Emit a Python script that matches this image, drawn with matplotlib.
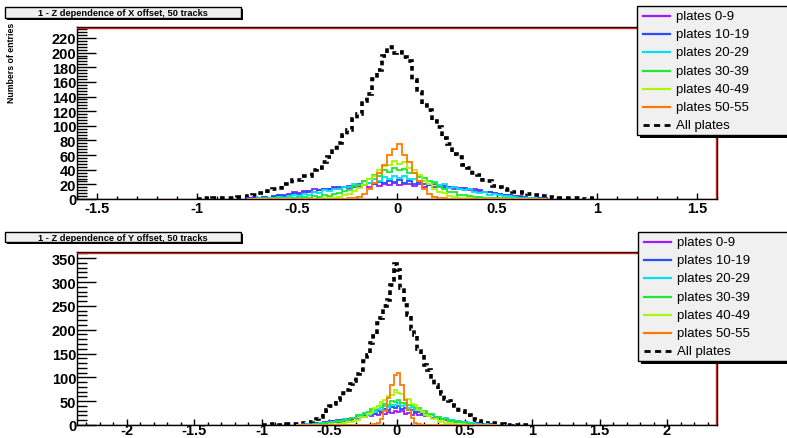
import numpy as np
import matplotlib
matplotlib.use('Agg')
import matplotlib.pyplot as plt
from matplotlib.patches import Rectangle
from matplotlib.lines import Line2D
from matplotlib.ticker import MultipleLocator, FuncFormatter

plt.rcParams['font.family'] = ['Liberation Sans', 'DejaVu Sans']
plt.rcParams['font.weight'] = 'bold'

# ---------------- data ----------------
series_labels = ['plates 0-9', 'plates 10-19', 'plates 20-29', 'plates 30-39',
                 'plates 40-49', 'plates 50-55']
all_label = 'All plates'
series_colors = ['#9a1cff', '#2a4cff', '#00e0f0', '#1ee832', '#a8f800', '#ff7a00']

plate_edges = np.linspace(-0.75, 0.75, 61)   # 0.025 wide bins
all_edges = np.linspace(-1.0, 1.0, 81)

# --- X offset (top panel) ---
x_p0 = [1, 1, 2, 3, 2, 4, 5, 5, 7, 9, 8, 11, 10, 13, 12, 14, 13, 16, 14, 17,
        15, 18, 16, 19, 17, 20, 18, 21, 19, 22,
        19, 21, 20, 18, 20, 17, 19, 16, 18, 15, 16, 14, 15, 13, 12, 13, 11, 10, 9, 8,
        7, 6, 5, 4, 4, 3, 2, 2, 1, 1]
x_p1 = [1, 2, 1, 3, 2, 4, 5, 4, 6, 8, 7, 9, 11, 10, 12, 14, 13, 15, 17, 16,
        18, 17, 20, 19, 22, 21, 23, 22, 25, 23,
        26, 22, 24, 21, 23, 20, 19, 21, 17, 18, 16, 17, 14, 15, 13, 11, 12, 10, 9, 8,
        7, 6, 6, 4, 3, 3, 2, 1, 2, 1]
x_p2 = [0, 0, 1, 1, 2, 1, 3, 2, 4, 5, 4, 7, 6, 9, 8, 12, 11, 14, 13, 17,
        16, 20, 19, 24, 22, 27, 25, 30, 28, 31,
        29, 31, 27, 28, 25, 24, 21, 23, 19, 20, 15, 17, 14, 12, 13, 10, 8, 9, 6, 7,
        5, 4, 4, 3, 2, 2, 1, 1, 0, 0]
x_p3 = [0, 0, 0, 1, 0, 1, 1, 0, 2, 1, 2, 3, 2, 4, 3, 5, 4, 7, 8, 11,
        12, 18, 19, 25, 27, 33, 32, 39, 37, 42,
        39, 41, 36, 35, 30, 29, 24, 22, 16, 14, 10, 9, 6, 5, 4, 3, 3, 2, 2, 1,
        2, 1, 1, 0, 1, 0, 0, 0, 0, 0]
x_p4 = [0, 0, 0, 0, 0, 0, 0, 0, 0, 0, 0, 0, 0, 0, 0, 1, 1, 2, 3, 5,
        7, 11, 15, 19, 27, 31, 39, 45, 47, 52,
        48, 50, 42, 39, 33, 25, 21, 14, 10, 8, 4, 3, 2, 1, 1, 0, 0, 0, 0, 0,
        0, 0, 0, 0, 0, 0, 0, 0, 0, 0]
x_p5 = [0, 0, 0, 0, 0, 0, 0, 0, 0, 0, 0, 0, 0, 0, 0, 0, 0, 0, 0, 0,
        1, 1, 3, 7, 13, 22, 36, 47, 60, 68,
        75, 60, 50, 36, 24, 13, 7, 3, 1, 1, 0, 0, 0, 0, 0, 0, 0, 0, 0, 0,
        0, 0, 0, 0, 0, 0, 0, 0, 0, 0]
x_all = [0, 1, 0, 1, 1, 1, 2, 2, 3, 3, 4, 5, 8, 8, 11, 14, 15, 20, 21, 26,
         26, 31, 31, 39, 43, 51, 57, 69, 76, 88, 94, 109, 116, 134, 143, 164, 176, 195, 207, 199,
         201, 194, 189, 163, 146, 129, 122, 106, 99, 83, 75, 62, 57, 47, 43, 35, 33, 26, 24, 18,
         17, 13, 12, 10, 9, 8, 7, 6, 5, 4, 3, 2, 2, 1, 1, 1, 1, 0, 1, 0]

# --- Y offset (bottom panel) ---
y_p0 = [0, 1, 2, 1, 3, 2, 4, 5, 4, 7, 6, 8, 7, 10, 9, 12, 11, 14, 13, 17,
        16, 20, 19, 23, 21, 26, 23, 28, 25, 29,
        27, 29, 24, 26, 22, 25, 20, 21, 18, 19, 15, 17, 13, 12, 11, 9, 10, 7, 8, 6,
        5, 5, 3, 4, 2, 3, 1, 2, 1, 0]
y_p1 = [1, 0, 2, 1, 3, 2, 4, 3, 6, 5, 8, 7, 10, 9, 12, 11, 15, 14, 18, 17,
        22, 21, 26, 24, 30, 28, 34, 32, 38, 35,
        39, 34, 35, 31, 32, 27, 28, 23, 24, 19, 20, 16, 15, 13, 12, 10, 11, 8, 9, 6,
        7, 4, 5, 3, 2, 3, 1, 2, 0, 1]
y_p2 = [0, 1, 0, 2, 1, 3, 2, 4, 5, 4, 7, 6, 9, 8, 12, 11, 15, 14, 19, 18,
        24, 22, 29, 27, 34, 32, 39, 37, 43, 41,
        46, 40, 41, 36, 37, 31, 32, 27, 27, 22, 22, 17, 17, 13, 14, 10, 11, 8, 9, 6,
        7, 4, 5, 2, 3, 1, 2, 1, 0, 1]
y_p3 = [0, 0, 1, 0, 1, 2, 1, 3, 2, 4, 5, 6, 8, 7, 11, 10, 15, 14, 20, 21,
        26, 27, 33, 32, 39, 38, 45, 43, 50, 49,
        53, 47, 47, 41, 42, 35, 35, 29, 29, 23, 23, 17, 17, 13, 13, 9, 9, 6, 7, 4,
        5, 2, 3, 1, 2, 1, 0, 1, 0, 0]
y_p4 = [0, 0, 0, 0, 0, 1, 0, 0, 1, 1, 2, 1, 3, 2, 4, 6, 6, 9, 10, 16,
        17, 23, 26, 35, 39, 49, 52, 61, 62, 73,
        68, 66, 55, 54, 44, 41, 31, 28, 20, 19, 13, 12, 7, 8, 4, 5, 2, 3, 1, 2,
        1, 0, 1, 0, 0, 0, 0, 0, 0, 0]
y_p5 = [0, 0, 0, 0, 0, 0, 0, 0, 0, 0, 0, 0, 0, 0, 0, 0, 0, 0, 0, 0,
        0, 0, 1, 2, 5, 12, 29, 57, 84, 104,
        110, 83, 53, 31, 14, 4, 2, 0, 0, 0, 0, 0, 0, 0, 0, 0, 0, 0, 0, 0,
        0, 0, 0, 0, 0, 0, 0, 0, 0, 0]
y_all = [1, 0, 1, 2, 1, 0, 1, 2, 3, 2, 3, 4, 4, 6, 6, 9, 13, 16, 26, 31,
         40, 44, 53, 56, 68, 73, 86, 92, 107, 116, 135, 146, 172, 187, 213, 225, 249, 262, 294, 338,
         325, 288, 251, 231, 202, 188, 160, 147, 125, 115, 96, 84, 70, 65, 55, 51, 43, 39, 32, 29,
         22, 20, 13, 11, 9, 6, 5, 3, 4, 2, 2, 3, 1, 1, 2, 1, 0, 1, 1, 0]

top_title = '1 - Z dependence of X offset, 50 tracks'
bottom_title = '1 - Z dependence of Y offset, 50 tracks'
ylabel_top = 'Numbers of entries'

# ---------------- figure ----------------
W, H = 787, 439
fig = plt.figure(figsize=(W / 100, H / 100), dpi=100)
fig.patch.set_facecolor('white')


def fx(x):
    return x / W


def fy(y):
    return 1 - y / H


ax1 = fig.add_axes([fx(77), fy(200), fx(717) - fx(77), fy(28) - fy(200)])
ax2 = fig.add_axes([fx(77), fy(426), fx(717) - fx(77), fy(253) - fy(426)])


def fmt(v, pos):
    v = round(v, 6)
    if abs(v) < 1e-9:
        return '0'
    return '%g' % v


def style(ax, xlim, ylim, ymaj, ymin, xpad):
    ax.set_xlim(*xlim)
    ax.set_ylim(*ylim)
    ax.xaxis.set_major_locator(MultipleLocator(0.5))
    ax.xaxis.set_minor_locator(MultipleLocator(0.1))
    ax.yaxis.set_major_locator(MultipleLocator(ymaj))
    ax.yaxis.set_minor_locator(MultipleLocator(ymin))
    ax.xaxis.set_major_formatter(FuncFormatter(fmt))
    ax.yaxis.set_major_formatter(FuncFormatter(fmt))
    ax.tick_params(axis='x', which='major', direction='in', length=4, width=1,
                   labelsize=10.5, pad=xpad)
    ax.tick_params(axis='x', which='minor', direction='in', length=2, width=1)
    ax.tick_params(axis='y', which='major', direction='in', length=14, width=1,
                   labelsize=10.5, pad=0.5)
    ax.tick_params(axis='y', which='minor', direction='in', length=7, width=1)
    for s in ax.spines.values():
        s.set_linewidth(1)
        s.set_color('black')
    # red frame lines of the ROOT pad
    ax.plot([0, 1], [0.994, 0.994], transform=ax.transAxes, color='#d02020', lw=1, zorder=5)
    ax.plot([0.9984, 0.9984], [0, 0.994], transform=ax.transAxes, color='#d02020', lw=1, zorder=5)
    ax.axhline(0, color='#d02020', lw=1, zorder=1)


def draw(ax, plates, allv):
    ax.stairs(allv, all_edges, color='black', lw=2.6, linestyle=(0, (1.3, 1.1)), zorder=2)
    for vals, col in zip(plates, series_colors):
        ax.stairs(vals, plate_edges, color=col, lw=1.3, zorder=3)


draw(ax1, [x_p0, x_p1, x_p2, x_p3, x_p4, x_p5], x_all)
draw(ax2, [y_p0, y_p1, y_p2, y_p3, y_p4, y_p5], y_all)
style(ax1, (-1.6, 1.6), (0, 235), 20, 4, 1.5)
style(ax2, (-2.37, 2.37), (0, 363), 50, 10, -1.5)


def box(x0, y0, x1, y1, face, shadow=3, z=10):
    fig.add_artist(Rectangle((fx(x0 + shadow), fy(y1 + shadow)), fx(x1) - fx(x0), fy(y0) - fy(y1),
                             transform=fig.transFigure, facecolor='black',
                             edgecolor='none', zorder=z))
    fig.add_artist(Rectangle((fx(x0), fy(y1)), fx(x1) - fx(x0), fy(y0) - fy(y1),
                             transform=fig.transFigure, facecolor=face,
                             edgecolor='black', lw=1, zorder=z + 1))


def title(text, x0, y0, x1, y1):
    box(x0, y0, x1, y1, '#f0f0f0', shadow=2)
    fig.text(fx((x0 + x1) / 2), fy((y0 + y1) / 2 + 0.5), text, ha='center', va='center',
             fontsize=6.7, fontweight='bold', zorder=20)


def legend(x0, y0, x1, y1):
    box(x0, y0, x1, y1, '#f0f0f0', shadow=3)
    for k, (lab, col) in enumerate(zip(series_labels + [all_label],
                                       series_colors + ['black'])):
        yc = y0 + 10 + 18.2 * k
        if k < 6:
            ln = Line2D([fx(x0 + 6), fx(x0 + 33)], [fy(yc), fy(yc)], color=col, lw=1.6,
                        transform=fig.transFigure, zorder=20)
        else:
            ln = Line2D([fx(x0 + 6), fx(x0 + 33)], [fy(yc), fy(yc)], color=col, lw=2,
                        linestyle=(0, (2.2, 1.6)), transform=fig.transFigure, zorder=20)
        fig.add_artist(ln)
        fig.text(fx(x0 + 39), fy(yc), lab, ha='left', va='center', fontsize=9.5,
                 fontweight='normal', zorder=20)


title(top_title, 5, 8, 241, 19)
title(bottom_title, 5, 233, 241, 243)
legend(637, 7, 800, 136)
legend(638, 233, 800, 362)

fig.text(fx(12), fy(63), ylabel_top, rotation=90, ha='center', va='center',
         fontsize=6.3, fontweight='bold')

fig.savefig('out.png', dpi=100)
